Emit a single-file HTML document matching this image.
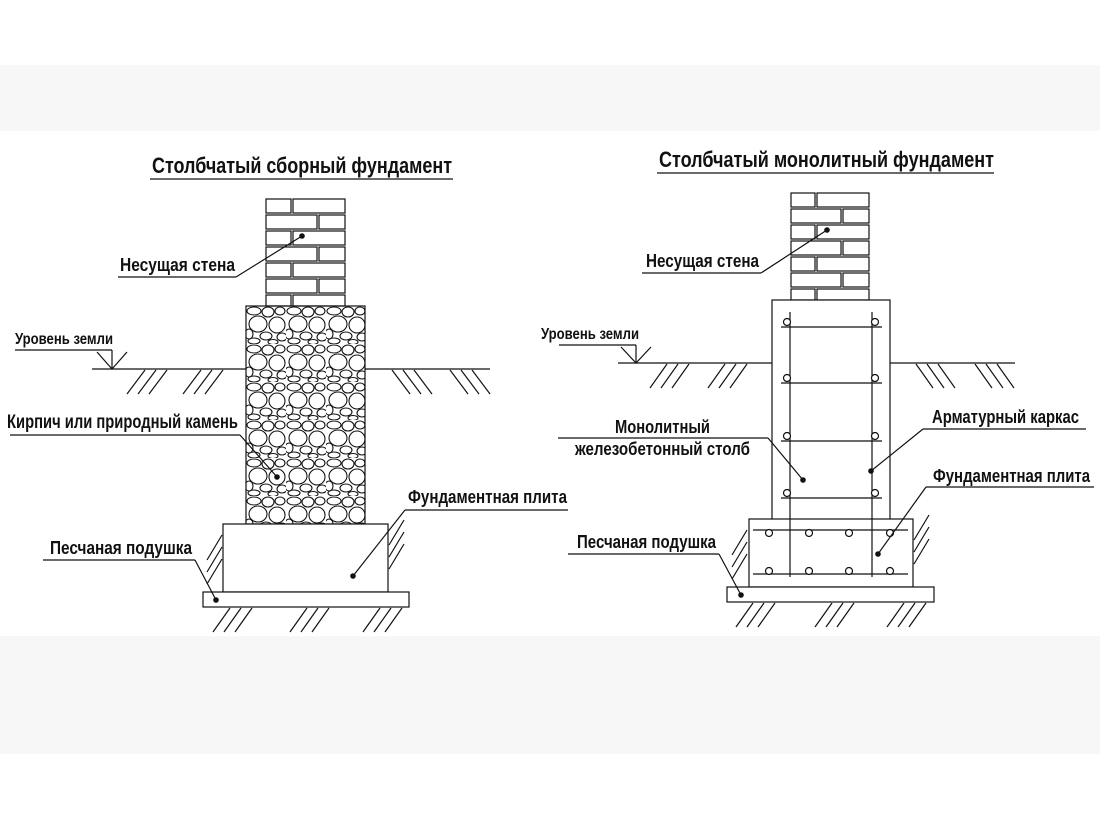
<!DOCTYPE html>
<html><head><meta charset="utf-8"><style>
html,body{margin:0;padding:0;background:#fff}
svg{display:block}
text{font-family:"Liberation Sans",Arial,sans-serif;font-weight:bold;fill:#111}
</style></head><body>
<svg width="1100" height="825" viewBox="0 0 1100 825" xmlns="http://www.w3.org/2000/svg">
<defs>
<pattern id="stone" x="246" y="306" width="40" height="38" patternUnits="userSpaceOnUse">
<g fill="#fff" stroke="#111" stroke-width="1.1">
<ellipse cx="8" cy="5" rx="7" ry="4"/>
<ellipse cx="22" cy="6" rx="6" ry="5"/>
<ellipse cx="34" cy="5" rx="5" ry="4"/>
<ellipse cx="12" cy="18" rx="9" ry="8"/>
<ellipse cx="31" cy="19" rx="8" ry="8"/>
<ellipse cx="3" cy="28" rx="4" ry="5"/>
<ellipse cx="20" cy="30" rx="6" ry="4"/>
<ellipse cx="36" cy="31" rx="5" ry="4"/>
<ellipse cx="8" cy="35" rx="6" ry="3"/>
<ellipse cx="27" cy="36" rx="5" ry="2.5"/>
</g>
</pattern>
</defs>
<rect x="0" y="65" width="1100" height="66" fill="#f7f7f7"/>
<rect x="0" y="636" width="1100" height="118" fill="#f7f7f7"/>

<g stroke="#111" stroke-width="1.2" fill="none">
<!-- LEFT -->
<line x1="150" y1="179" x2="453" y2="179"/>
<!-- bricks left -->
<g fill="#fff">
<rect x="266" y="199" width="25" height="14"/><rect x="293" y="199" width="52" height="14"/>
<rect x="266" y="215" width="51" height="14"/><rect x="319" y="215" width="26" height="14"/>
<rect x="266" y="231" width="25" height="14"/><rect x="293" y="231" width="52" height="14"/>
<rect x="266" y="247" width="51" height="14"/><rect x="319" y="247" width="26" height="14"/>
<rect x="266" y="263" width="25" height="14"/><rect x="293" y="263" width="52" height="14"/>
<rect x="266" y="279" width="51" height="14"/><rect x="319" y="279" width="26" height="14"/>
<rect x="266" y="295" width="25" height="11"/><rect x="293" y="295" width="52" height="11"/>
</g>
<rect x="246" y="306" width="119" height="218" fill="url(#stone)"/>
<line x1="92" y1="369" x2="246" y2="369"/><line x1="365" y1="369" x2="490" y2="369"/>
<line x1="112" y1="350" x2="112" y2="369"/><polyline points="97,352 112,369 127,352"/>
<line x1="15" y1="350" x2="112" y2="350"/>
<g>
<line x1="127" y1="394" x2="145" y2="370"/><line x1="138" y1="394" x2="156" y2="370"/><line x1="149" y1="394" x2="167" y2="370"/>
<line x1="183" y1="394" x2="201" y2="370"/><line x1="194" y1="394" x2="212" y2="370"/><line x1="205" y1="394" x2="223" y2="370"/>
<line x1="392" y1="370" x2="410" y2="394"/><line x1="403" y1="370" x2="421" y2="394"/><line x1="414" y1="370" x2="432" y2="394"/>
<line x1="450" y1="370" x2="468" y2="394"/><line x1="461" y1="370" x2="479" y2="394"/><line x1="472" y1="370" x2="490" y2="394"/>
</g>
<rect x="223" y="524" width="165" height="68" fill="#fff"/>
<rect x="203" y="592" width="206" height="15" fill="#fff"/>
<g>
<line x1="207" y1="560" x2="222" y2="535"/><line x1="207" y1="572" x2="222" y2="547"/><line x1="207" y1="584" x2="222" y2="559"/>
<line x1="389" y1="545" x2="404" y2="520"/><line x1="389" y1="557" x2="404" y2="532"/><line x1="389" y1="569" x2="404" y2="544"/>
<line x1="213" y1="632" x2="230" y2="608"/><line x1="224" y1="632" x2="241" y2="608"/><line x1="235" y1="632" x2="252" y2="608"/>
<line x1="290" y1="632" x2="307" y2="608"/><line x1="301" y1="632" x2="318" y2="608"/><line x1="312" y1="632" x2="329" y2="608"/>
<line x1="363" y1="632" x2="380" y2="608"/><line x1="374" y1="632" x2="391" y2="608"/><line x1="385" y1="632" x2="402" y2="608"/>
</g>
<!-- left leaders -->
<line x1="118" y1="277" x2="236" y2="277"/><line x1="236" y1="277" x2="302" y2="236"/>
<line x1="10" y1="435" x2="240" y2="435"/><line x1="240" y1="435" x2="277" y2="477"/>
<line x1="43" y1="560" x2="195" y2="560"/><line x1="195" y1="560" x2="216" y2="600"/>
<line x1="405" y1="510" x2="568" y2="510"/><line x1="405" y1="510" x2="353" y2="576"/>

<!-- RIGHT -->
<line x1="657" y1="173" x2="994" y2="173"/>
<g fill="#fff">
<rect x="791" y="193" width="24" height="14"/><rect x="817" y="193" width="52" height="14"/>
<rect x="791" y="209" width="50" height="14"/><rect x="843" y="209" width="26" height="14"/>
<rect x="791" y="225" width="24" height="14"/><rect x="817" y="225" width="52" height="14"/>
<rect x="791" y="241" width="50" height="14"/><rect x="843" y="241" width="26" height="14"/>
<rect x="791" y="257" width="24" height="14"/><rect x="817" y="257" width="52" height="14"/>
<rect x="791" y="273" width="50" height="14"/><rect x="843" y="273" width="26" height="14"/>
<rect x="791" y="289" width="24" height="11"/><rect x="817" y="289" width="52" height="11"/>
</g>
<rect x="772" y="300" width="118" height="220" fill="#fff"/>
<line x1="618" y1="363" x2="772" y2="363"/><line x1="890" y1="363" x2="1015" y2="363"/>
<line x1="636" y1="345" x2="636" y2="363"/><polyline points="621,347 636,363 651,347"/>
<line x1="559" y1="345" x2="636" y2="345"/>
<g>
<line x1="650" y1="388" x2="667" y2="364"/><line x1="661" y1="388" x2="678" y2="364"/><line x1="672" y1="388" x2="689" y2="364"/>
<line x1="708" y1="388" x2="725" y2="364"/><line x1="719" y1="388" x2="736" y2="364"/><line x1="730" y1="388" x2="747" y2="364"/>
<line x1="916" y1="364" x2="933" y2="388"/><line x1="927" y1="364" x2="944" y2="388"/><line x1="938" y1="364" x2="955" y2="388"/>
<line x1="975" y1="364" x2="992" y2="388"/><line x1="986" y1="364" x2="1003" y2="388"/><line x1="997" y1="364" x2="1014" y2="388"/>
</g>
<rect x="749" y="519" width="164" height="68" fill="#fff"/>
<rect x="727" y="587" width="207" height="15" fill="#fff"/>
<!-- rebar -->
<line x1="790" y1="312" x2="790" y2="577"/><line x1="872" y1="312" x2="872" y2="577"/>
<line x1="781" y1="327" x2="882" y2="327"/><line x1="781" y1="383" x2="882" y2="383"/>
<line x1="781" y1="441" x2="882" y2="441"/><line x1="781" y1="498" x2="882" y2="498"/>
<g fill="#fff">
<circle cx="787" cy="322" r="3.5"/><circle cx="875" cy="322" r="3.5"/>
<circle cx="787" cy="378" r="3.5"/><circle cx="875" cy="378" r="3.5"/>
<circle cx="787" cy="436" r="3.5"/><circle cx="875" cy="436" r="3.5"/>
<circle cx="787" cy="493" r="3.5"/><circle cx="875" cy="493" r="3.5"/>
</g>
<line x1="753" y1="530" x2="908" y2="530"/><line x1="753" y1="574" x2="908" y2="574"/>
<g fill="#fff">
<circle cx="769" cy="533" r="3.5"/><circle cx="809" cy="533" r="3.5"/><circle cx="849" cy="533" r="3.5"/><circle cx="890" cy="533" r="3.5"/>
<circle cx="769" cy="571" r="3.5"/><circle cx="809" cy="571" r="3.5"/><circle cx="849" cy="571" r="3.5"/><circle cx="890" cy="571" r="3.5"/>
</g>
<g>
<line x1="732" y1="555" x2="747" y2="530"/><line x1="732" y1="567" x2="747" y2="542"/><line x1="732" y1="579" x2="747" y2="554"/>
<line x1="914" y1="540" x2="929" y2="515"/><line x1="914" y1="552" x2="929" y2="527"/><line x1="914" y1="564" x2="929" y2="539"/>
<line x1="736" y1="627" x2="753" y2="603"/><line x1="747" y1="627" x2="764" y2="603"/><line x1="758" y1="627" x2="775" y2="603"/>
<line x1="815" y1="627" x2="832" y2="603"/><line x1="826" y1="627" x2="843" y2="603"/><line x1="837" y1="627" x2="854" y2="603"/>
<line x1="887" y1="627" x2="904" y2="603"/><line x1="898" y1="627" x2="915" y2="603"/><line x1="909" y1="627" x2="926" y2="603"/>
</g>
<!-- right leaders -->
<line x1="642" y1="273" x2="761" y2="273"/><line x1="761" y1="273" x2="827" y2="230"/>
<line x1="558" y1="438" x2="768" y2="438"/><line x1="768" y1="438" x2="803" y2="480"/>
<line x1="923" y1="429" x2="1086" y2="429"/><line x1="923" y1="429" x2="871" y2="471"/>
<line x1="926" y1="487" x2="1094" y2="487"/><line x1="926" y1="487" x2="878" y2="554"/>
<line x1="568" y1="554" x2="719" y2="554"/><line x1="719" y1="554" x2="741" y2="595"/>
</g>
<g fill="#111">
<circle cx="302" cy="236" r="2.8"/><circle cx="277" cy="477" r="2.8"/><circle cx="216" cy="600" r="2.8"/><circle cx="353" cy="576" r="2.8"/>
<circle cx="827" cy="230" r="2.8"/><circle cx="803" cy="480" r="2.8"/><circle cx="871" cy="471" r="2.8"/><circle cx="878" cy="554" r="2.8"/><circle cx="741" cy="595" r="2.8"/>
</g>

<text x="152" y="173" font-size="22" textLength="300" lengthAdjust="spacingAndGlyphs">Столбчатый сборный фундамент</text>
<text x="120" y="271" font-size="18" textLength="115" lengthAdjust="spacingAndGlyphs">Несущая стена</text>
<text x="15" y="344" font-size="16" textLength="98" lengthAdjust="spacingAndGlyphs">Уровень земли</text>
<text x="7" y="428" font-size="19" textLength="231" lengthAdjust="spacingAndGlyphs">Кирпич или природный камень</text>
<text x="50" y="554" font-size="18" textLength="142" lengthAdjust="spacingAndGlyphs">Песчаная подушка</text>
<text x="408" y="503" font-size="18" textLength="159" lengthAdjust="spacingAndGlyphs">Фундаментная плита</text>

<text x="659" y="167" font-size="22" textLength="335" lengthAdjust="spacingAndGlyphs">Столбчатый монолитный фундамент</text>
<text x="646" y="267" font-size="18" textLength="113" lengthAdjust="spacingAndGlyphs">Несущая стена</text>
<text x="541" y="339" font-size="16" textLength="98" lengthAdjust="spacingAndGlyphs">Уровень земли</text>
<text x="615" y="433" font-size="18" textLength="95" lengthAdjust="spacingAndGlyphs">Монолитный</text>
<text x="575" y="455" font-size="18" textLength="175" lengthAdjust="spacingAndGlyphs">железобетонный столб</text>
<text x="932" y="423" font-size="18" textLength="147" lengthAdjust="spacingAndGlyphs">Арматурный каркас</text>
<text x="933" y="482" font-size="18" textLength="157" lengthAdjust="spacingAndGlyphs">Фундаментная плита</text>
<text x="577" y="548" font-size="18" textLength="139" lengthAdjust="spacingAndGlyphs">Песчаная подушка</text>
</svg>
</body></html>
